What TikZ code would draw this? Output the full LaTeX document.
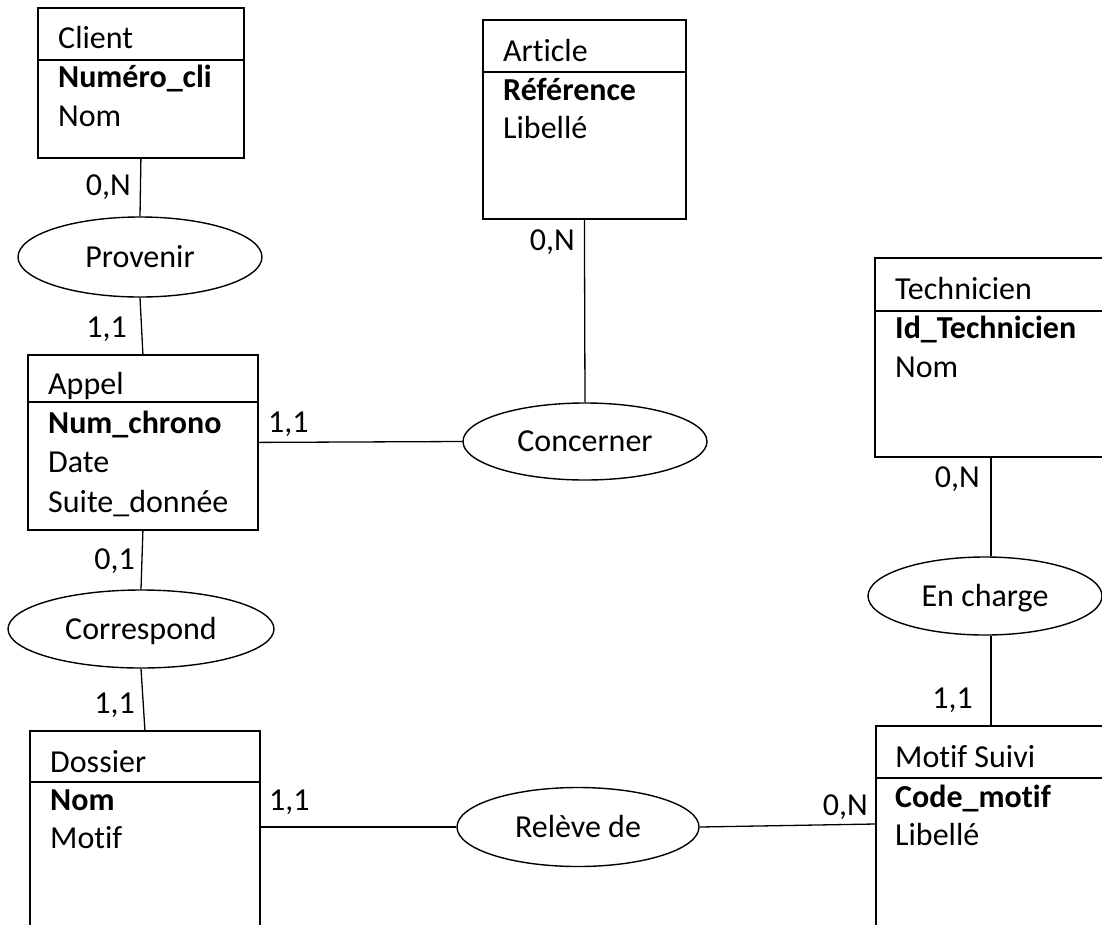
\documentclass[tikz,border=0pt]{standalone}
\usepackage{fontspec}
\setmainfont[Ligatures=NoCommon]{Carlito}
\usetikzlibrary{shapes.geometric}
\tikzset{
  ent/.style={draw, line width=1.8pt, rectangle, anchor=north west, inner sep=0pt},
  sep/.style={line width=1.3pt},
  conn/.style={line width=1.3pt},
  rel/.style={draw, ellipse, line width=1.4pt, inner sep=0pt, text height=21pt, text depth=1pt,
     font=\fontsize{32}{38}\selectfont},
  attr/.style={inner sep=0pt, anchor=base west, font=\fontsize{32}{38}\selectfont},
  card/.style={inner sep=0pt, font=\fontsize{32}{38}\selectfont},
}
\begin{document}
\begin{tikzpicture}[x=1pt,y=-1pt]
\useasboundingbox (0,0) rectangle (1102,924);
\clip (0,0) rectangle (1102,924);
\fill[white] (0,0) rectangle (1102,924);

% Entities
\node[ent, minimum width=206pt, minimum height=150pt] (client) at (37,7) {};
\node[ent, minimum width=203pt, minimum height=199pt] (article) at (482,19) {};
\node[ent, minimum width=230pt, minimum height=175pt] (appel) at (27,354) {};
\node[ent, minimum width=230pt, minimum height=240pt] (dossier) at (29,730) {};
\node[ent, minimum width=232pt, minimum height=199pt] (tech) at (874,257) {};
\node[ent, minimum width=230pt, minimum height=240pt] (motif) at (875,725) {};

% Header separators
\draw[sep] (client.west |- 0,60) -- (client.east |- 0,60);
\draw[sep] (article.west |- 0,72) -- (article.east |- 0,72);
\draw[sep] (appel.west |- 0,402) -- (appel.east |- 0,402);
\draw[sep] (dossier.west |- 0,782) -- (dossier.east |- 0,782);
\draw[sep] (tech.west |- 0,311) -- (tech.east |- 0,311);
\draw[sep] (motif.west |- 0,778) -- (motif.east |- 0,778);

% Entity texts
\node[attr] (clientN) at (58,48) {Client};
\node[attr] (clientK) at (58,87) {\bfseries Numéro\_cli};
\node[attr] (clientA) at (58,126) {Nom};

\node[attr] (articleN) at (503,61) {Article};
\node[attr] (articleK) at (503,100) {\bfseries Référence};
\node[attr] (articleA) at (503,138) {Libellé};

\node[attr] (appelN) at (48,394) {Appel};
\node[attr] (appelK) at (48,433) {\bfseries Num\_chrono};
\node[attr] (appelA) at (48,472) {Date};
\node[attr] (appelB) at (48,512) {Suite\_donnée};

\node[attr] (dossierN) at (50,772) {Dossier};
\node[attr] (dossierK) at (50,810) {\bfseries Nom};
\node[attr] (dossierA) at (50,848) {Motif};

\node[attr] (techN) at (895,299) {Technicien};
\node[attr] (techK) at (895,338) {\bfseries Id\_Technicien};
\node[attr] (techA) at (895,377) {Nom};

\node[attr] (motifN) at (895,767) {Motif Suivi};
\node[attr] (motifK) at (895,807) {\bfseries Code\_motif};
\node[attr] (motifA) at (895,845) {Libellé};

% Relationships
\node[rel, minimum width=244pt, minimum height=80pt] (prov) at (140,257) {Provenir};
\node[rel, minimum width=266pt, minimum height=78pt] (corr) at (141,629) {Correspond};
\node[rel, minimum width=244pt, minimum height=77pt] (conc) at (585,441.5) {Concerner};
\node[rel, minimum width=242pt, minimum height=79pt] (rel) at (578,827) {Relève de};
\node[rel, minimum width=234pt, minimum height=78pt] (charge) at (985,596) {En charge};

% Connectors
\draw[conn] (client.south) -- (prov.north);
\draw[conn] (prov.south) -- (appel.north);
\draw[conn] (appel.south) -- (corr.north);
\draw[conn] (corr.south) -- (dossier.north);
\draw[conn] (appel.east) -- (conc.west);
\draw[conn] (conc.north) -- (article.south);
\draw[conn] (rel.west) -- (rel.west -| dossier.east);
\draw[conn] (rel.east) -- (motif.west |- 0,824);
\coordinate (chargeB) at (motif.north |- charge.south);
\coordinate (chargeT) at (tech.south |- charge.north);
\draw[conn] (motif.north) -- (chargeB);
\draw[conn] (chargeT) -- (tech.south);

% Cardinalities
\node[card, anchor=base east] (c1) at (131,195) {0,N};
\node[card, anchor=base east] (c2) at (127,337) {1,1};
\node[card, anchor=base east] (c3) at (135,569) {0,1};
\node[card, anchor=base east] (c4) at (135,713) {1,1};
\node[card, anchor=base east] (c5) at (575,250) {0,N};
\node[card, anchor=base west] (c6) at (268,432) {1,1};
\node[card, anchor=base west] (c7) at (269,810) {1,1};
\node[card, anchor=base east] (c8) at (868,815) {0,N};
\node[card, anchor=base east] (c9) at (980,487) {0,N};
\node[card, anchor=base east] (c10) at (973,708) {1,1};
\end{tikzpicture}
\end{document}
